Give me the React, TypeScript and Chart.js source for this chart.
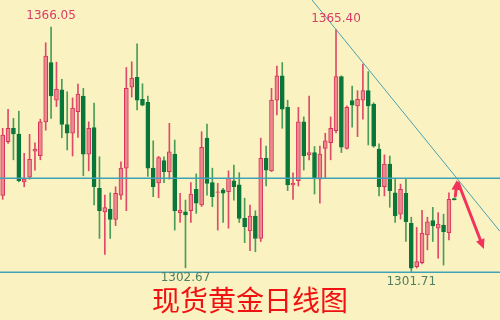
import React, { useEffect, useRef } from "react";
import { Chart, registerables } from "chart.js";

Chart.register(...registerables);

// Daily spot gold OHLC, oldest to newest
const opens = [
  1321.7, 1335.9, 1339.4, 1337.9, 1325.3, 1326.5, 1333.4, 1332.2, 1341.1, 1356.7,
  1346.8, 1349.5, 1340.4, 1338.1, 1343.8, 1347.9, 1332.6, 1339.6, 1323.6, 1317.4,
  1318.1, 1315.4, 1321.8, 1328.9, 1350.2, 1352.8, 1347.0, 1346.2, 1328.9, 1325.0,
  1330.9, 1328.0, 1332.6, 1317.2, 1317.4, 1317.7, 1323.3, 1319.2, 1336.8, 1325.1,
  1322.5, 1323.2, 1322.7, 1325.6, 1324.5, 1315.7, 1312.4, 1316.3, 1310.4, 1331.5,
  1328.2, 1346.8, 1353.2, 1344.9, 1324.5, 1325.6, 1341.1, 1332.4, 1333.0, 1326.0,
  1334.1, 1335.6, 1338.8, 1353.0, 1334.1, 1346.7, 1345.3, 1346.8, 1349.3, 1345.8,
  1333.9, 1324.0, 1330.0, 1322.4, 1316.8, 1322.3, 1314.4, 1303.0, 1304.0, 1311.3,
  1315.1, 1313.1, 1313.9, 1311.9, 1320.9,
];
const highs = [
  1339.4, 1344.4, 1342.0, 1343.9, 1332.8, 1337.8, 1335.6, 1341.8, 1361.9, 1366.05,
  1356.8, 1352.3, 1349.0, 1347.4, 1351.0, 1349.9, 1341.1, 1346.0, 1331.9, 1321.8,
  1322.4, 1324.0, 1330.6, 1355.4, 1356.9, 1361.6, 1351.1, 1347.9, 1336.1, 1332.0,
  1331.9, 1340.7, 1336.3, 1322.3, 1320.5, 1325.1, 1327.4, 1338.5, 1340.5, 1328.9,
  1324.9, 1323.6, 1328.2, 1329.7, 1327.7, 1321.0, 1319.2, 1317.7, 1336.8, 1334.7,
  1349.9, 1355.8, 1356.7, 1346.8, 1327.7, 1344.9, 1342.4, 1347.9, 1334.6, 1334.7,
  1338.1, 1342.4, 1365.4, 1353.2, 1345.3, 1350.5, 1349.3, 1356.3, 1354.3, 1346.1,
  1335.3, 1332.4, 1332.1, 1326.0, 1324.7, 1326.2, 1316.0, 1313.3, 1317.8, 1316.0,
  1318.6, 1317.2, 1316.8, 1322.4, 1321.1,
];
const lows = [
  1320.7, 1335.4, 1331.1, 1325.3, 1324.0, 1326.0, 1328.4, 1331.1, 1338.9, 1342.0,
  1345.1, 1336.9, 1333.7, 1332.1, 1337.0, 1326.9, 1328.2, 1319.2, 1310.4, 1306.2,
  1310.4, 1313.8, 1320.7, 1317.7, 1347.6, 1344.2, 1345.3, 1326.7, 1321.4, 1321.1,
  1325.1, 1326.0, 1312.6, 1314.6, 1302.67, 1314.6, 1317.0, 1318.8, 1321.8, 1318.8,
  1312.6, 1314.6, 1313.1, 1320.5, 1314.6, 1309.3, 1307.2, 1306.9, 1309.6, 1324.2,
  1328.0, 1342.9, 1339.4, 1323.0, 1320.7, 1324.2, 1328.4, 1331.1, 1322.1, 1319.7,
  1326.2, 1331.1, 1338.2, 1333.0, 1333.9, 1339.7, 1337.2, 1341.8, 1335.0, 1334.4,
  1321.6, 1321.6, 1318.6, 1314.6, 1315.5, 1309.6, 1301.71, 1302.6, 1303.7, 1307.4,
  1309.6, 1305.2, 1303.4, 1310.0, 1320.5,
];
const closes = [
  1337.6, 1339.4, 1337.9, 1325.6, 1326.0, 1331.2, 1333.9, 1341.1, 1358.4, 1347.9,
  1349.7, 1340.4, 1338.1, 1344.7, 1348.4, 1332.6, 1339.4, 1324.0, 1317.7, 1318.5,
  1315.4, 1322.3, 1328.9, 1349.9, 1352.6, 1346.8, 1345.5, 1328.9, 1324.0, 1331.7,
  1328.0, 1333.2, 1317.7, 1317.9, 1316.6, 1322.1, 1319.7, 1334.4, 1324.9, 1321.4,
  1322.7, 1322.3, 1326.2, 1324.0, 1315.7, 1313.5, 1316.3, 1310.4, 1331.5, 1328.4,
  1346.8, 1353.2, 1344.4, 1324.5, 1324.9, 1341.1, 1332.1, 1333.0, 1326.2, 1332.6,
  1336.1, 1339.4, 1353.0, 1334.4, 1344.9, 1345.5, 1347.0, 1349.3, 1345.3, 1334.7,
  1324.0, 1330.0, 1323.0, 1316.3, 1323.3, 1314.8, 1302.6, 1304.3, 1311.8, 1314.8,
  1313.7, 1314.2, 1312.2, 1320.7, 1320.6,
];

// 85 trading sessions plus empty room on the right for the projection
const TOTAL_SLOTS = 93;
const sessionLabels = Array.from({ length: TOTAL_SLOTS }, (_, i) => `D${i + 1}`);

// Horizontal support / resistance levels
const levels = [1326.2, 1301.5];
// Descending trend line through two anchors [session index, price]
const trendStart = [62, 1365.4];
const trendEnd = [84.5, 1326.2];
// Projection arrows [x0, y0, x1, y1] in session index / price
const arrows = [
  [84.2, 1321.6, 84.5, 1325.8],
  [84.75, 1325.0, 89.5, 1307.6],
];
// Swing extremes that get a price tag
const highMarks = [9, 62];
const lowMarks = [34, 76];

const Y_MAX = 1373.16;
const Y_MIN = 1288.94;

const BG = "#faf3c1";
const UP_FILL = "#ea8a8e";
const UP_EDGE = "#d9325a";
const UP_WICK = "#df4a68";
const DOWN_FILL = "#0a773a";
const DOWN_WICK = "#4a9c58";
const LEVEL = "#3fa2b6";
const ARROW = "#f2335c";

function drawArrow(ctx: CanvasRenderingContext2D, x0: number, y0: number, x1: number, y1: number) {
  const ang = Math.atan2(y1 - y0, x1 - x0);
  const head = 10;
  const half = 4.5;
  const bx = x1 - head * Math.cos(ang);
  const by = y1 - head * Math.sin(ang);
  ctx.strokeStyle = ARROW;
  ctx.fillStyle = ARROW;
  ctx.lineWidth = 3;
  ctx.lineCap = "round";
  ctx.beginPath();
  ctx.moveTo(x0, y0);
  ctx.lineTo(bx, by);
  ctx.stroke();
  ctx.beginPath();
  ctx.moveTo(x1, y1);
  ctx.lineTo(bx + half * Math.sin(ang), by - half * Math.cos(ang));
  ctx.lineTo(bx - half * Math.sin(ang), by + half * Math.cos(ang));
  ctx.closePath();
  ctx.fill();
}

const overlay = {
  id: "overlay",
  beforeDraw(chart: any) {
    const { ctx, width, height } = chart;
    ctx.save();
    ctx.fillStyle = BG;
    ctx.fillRect(0, 0, width, height);
    ctx.restore();
  },
  afterDatasetsDraw(chart: any) {
    const { ctx, chartArea } = chart;
    const xs = chart.scales.x;
    const ys = chart.scales.y;
    ctx.save();
    // levels
    ctx.strokeStyle = LEVEL;
    ctx.lineWidth = 1.5;
    levels.forEach((v) => {
      const y = Math.round(ys.getPixelForValue(v)) + 0.25;
      ctx.beginPath();
      ctx.moveTo(chartArea.left, y);
      ctx.lineTo(chartArea.right, y);
      ctx.stroke();
    });
    // trend line extended across the plot
    const ax = xs.getPixelForValue(trendStart[0]);
    const ay = ys.getPixelForValue(trendStart[1]);
    const bx = xs.getPixelForValue(trendEnd[0]);
    const by = ys.getPixelForValue(trendEnd[1]);
    const slope = (by - ay) / (bx - ax);
    const xTop = ax + (chartArea.top - ay) / slope;
    const yRight = ay + slope * (chartArea.right - ax);
    ctx.strokeStyle = "#4aa0b3";
    ctx.lineWidth = 1;
    ctx.beginPath();
    ctx.moveTo(xTop, chartArea.top);
    ctx.lineTo(chartArea.right, yRight);
    ctx.stroke();
    ctx.restore();
  },
  afterDraw(chart: any) {
    const { ctx } = chart;
    const xs = chart.scales.x;
    const ys = chart.scales.y;
    ctx.save();
    ctx.font = "12px 'DejaVu Sans', sans-serif";
    ctx.textAlign = "center";
    ctx.textBaseline = "middle";
    ctx.fillStyle = "#d83c66";
    highMarks.forEach((i) => {
      ctx.fillText(highs[i].toFixed(2), xs.getPixelForValue(i), ys.getPixelForValue(highs[i]) - 11);
    });
    ctx.fillStyle = "#4f7e62";
    lowMarks.forEach((i) => {
      ctx.fillText(lows[i].toFixed(2), xs.getPixelForValue(i), ys.getPixelForValue(lows[i]) + 10.5);
    });
    arrows.forEach(([a, b, c, d]) => {
      drawArrow(ctx, xs.getPixelForValue(a), ys.getPixelForValue(b), xs.getPixelForValue(c), ys.getPixelForValue(d));
    });
    ctx.restore();
  },
};

export default function App() {
  const ref = useRef<HTMLCanvasElement | null>(null);

  useEffect(() => {
    document.body.style.margin = "0";
    const canvas = ref.current;
    if (!canvas) return;
    const up = opens.map((o, i) => closes[i] >= o);
    const chart = new Chart(canvas, {
      type: "bar",
      data: {
        labels: sessionLabels,
        datasets: [
          {
            label: "body",
            data: opens.map((o, i) => [o, closes[i]]) as any,
            backgroundColor: up.map((u) => (u ? UP_FILL : DOWN_FILL)),
            borderColor: up.map((u) => (u ? UP_EDGE : DOWN_FILL)),
            borderWidth: 1,
            borderSkipped: false,
            barThickness: 4,
            grouped: false,
            order: 1,
          },
          {
            label: "wick",
            data: lows.map((l, i) => [l, highs[i]]) as any,
            backgroundColor: up.map((u) => (u ? UP_WICK : DOWN_WICK)),
            borderWidth: 0,
            barThickness: 1,
            grouped: false,
            order: 2,
          },
        ],
      },
      options: {
        responsive: false,
        animation: false,
        layout: { padding: 0 },
        plugins: { legend: { display: false }, tooltip: { enabled: false }, title: { display: false } },
        scales: {
          x: { display: false, offset: true },
          y: { display: false, min: Y_MIN, max: Y_MAX },
        },
      },
      plugins: [overlay],
    });
    return () => chart.destroy();
  }, []);

  return (
    <div style={{ position: "relative", width: 500, height: 320, overflow: "hidden", background: BG }}>
      <canvas ref={ref} width={500} height={320} style={{ display: "block" }} />
      <div
        style={{
          position: "absolute",
          left: 0,
          width: 500,
          top: 284,
          textAlign: "center",
          fontFamily: "'Noto Sans CJK SC', sans-serif",
          fontSize: 28,
          lineHeight: "30px",
          color: "#f01212",
          pointerEvents: "none",
        }}
      >
        现货黄金日线图
      </div>
    </div>
  );
}
